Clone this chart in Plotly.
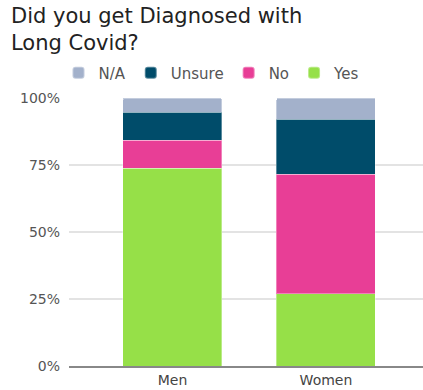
import plotly.graph_objects as go

categories = ["Men", "Women"]
yes = [73.7, 27.0]
no = [10.5, 44.6]
unsure = [10.5, 20.4]
na = [5.3, 8.0]
series_names = ["Yes", "No", "Unsure", "N/A"]
colors = ["#96e048", "#e83e96", "#004c6a", "#a3b1cb"]
y_ticks = [0, 25, 50, 75, 100]
y_tick_text = [f"{v}%" for v in y_ticks]
title_text = "Did you get Diagnosed with<br>Long Covid?"

fig = go.Figure()
for name, vals, col in zip(series_names, [yes, no, unsure, na], colors):
    fig.add_trace(go.Bar(
        x=categories, y=vals, name=name,
        marker=dict(color=col, line=dict(color="rgba(255,255,255,0.35)", width=1)),
    ))

fig.update_layout(
    width=423, height=390,
    barmode="stack", bargap=0.355, barcornerradius=2,
    margin=dict(l=69, r=0, t=98, b=24),
    paper_bgcolor="white", plot_bgcolor="white",
    font=dict(family="DejaVu Sans", color="#555"),
    legend=dict(
        orientation="h", traceorder="reversed",
        x=0.5, xref="container", xanchor="center",
        y=0.813, yref="container", yanchor="middle",
        font=dict(size=15, color="#555"),
        itemsizing="constant",
    ),
    showlegend=True,
    annotations=[dict(
        text=title_text, xref="paper", yref="paper",
        x=-0.170, y=1.36, xanchor="left", yanchor="top", align="left",
        showarrow=False, font=dict(size=21, color="#222"),
    )],
)
fig.update_xaxes(range=[-0.674, 1.632], showline=True, linecolor="#888", linewidth=2,
                 tickfont=dict(size=14, color="#444"), ticks="")
fig.update_yaxes(range=[0, 100], tickvals=y_ticks, ticktext=y_tick_text, showgrid=True,
                 gridcolor="#e3e3e3", gridwidth=1.5, zeroline=False,
                 tickfont=dict(size=14, color="#555"), ticklabelstandoff=8)

fig.write_html("out.html")
